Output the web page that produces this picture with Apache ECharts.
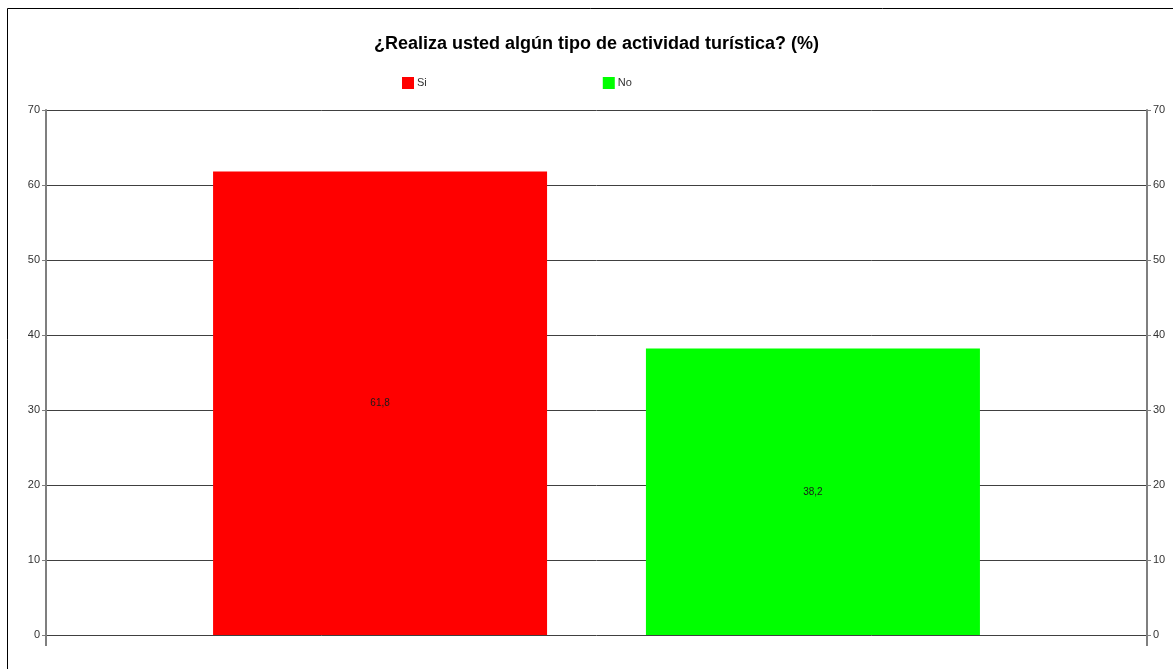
<!DOCTYPE html>
<html>
<head>
<meta charset="utf-8">
<script src="https://cdn.jsdelivr.net/npm/echarts@6/dist/echarts.min.js"></script>
<style>
  html, body { margin: 0; padding: 0; background: #fff; }
  #chart { width: 1173px; height: 669px; }
</style>
</head>
<body>
<div id="chart"></div>
<script>
// Survey answers, percent of respondents
const categories = [''];
const seriesNames = ['Si', 'No'];
const siValues = [61.8];
const noValues = [38.2];
const yTicks = [0, 10, 20, 30, 40, 50, 60, 70];

const chart = echarts.init(document.getElementById('chart'), null, { renderer: 'canvas' });

const fmt = p => String(p.value).replace('.', ',');

const yAxisCommon = {
  type: 'value',
  min: yTicks[0],
  max: yTicks[yTicks.length - 1],
  interval: yTicks[1] - yTicks[0],
  axisLine: { show: true, lineStyle: { color: '#7f7f7f', width: 2 } },
  axisTick: { show: true, length: 4, lineStyle: { color: '#7f7f7f', width: 1 } },
  axisLabel: { color: '#333', fontSize: 11, fontFamily: 'Liberation Sans, Arial', margin: 6 }
};

const valueLabel = {
  show: true,
  position: 'inside',
  formatter: fmt,
  fontSize: 10,
  color: '#1a1a1a',
  fontFamily: 'Liberation Sans, Arial'
};

chart.setOption({
  animation: false,
  backgroundColor: '#fff',
  title: {
    text: '¿Realiza usted algún tipo de actividad turística? (%)',
    left: 369,
    top: 30,
    textStyle: { fontSize: 18, fontWeight: 'bold', color: '#000', fontFamily: 'Liberation Sans, Arial' }
  },
  legend: {
    data: seriesNames,
    left: 397,
    top: 72,
    itemWidth: 12,
    itemHeight: 12,
    itemGap: 176,
    icon: 'rect',
    textStyle: { fontSize: 11, color: '#333', fontFamily: 'Liberation Sans, Arial', padding: [0, 0, 0, -2] }
  },
  grid: { left: 46, right: 26, top: 110, bottom: 34, containLabel: false },
  xAxis: {
    type: 'category',
    data: categories,
    axisLine: { show: false },
    axisTick: { show: true, length: 11, alignWithLabel: false, lineStyle: { color: '#7f7f7f', width: 2 } },
    axisLabel: { show: false },
    splitLine: { show: false }
  },
  yAxis: [
    Object.assign({}, yAxisCommon, {
      position: 'left',
      splitLine: { show: true, lineStyle: { color: '#404040', width: 1 } }
    }),
    Object.assign({}, yAxisCommon, {
      position: 'right',
      splitLine: { show: false }
    })
  ],
  series: [
    {
      name: seriesNames[0],
      type: 'bar',
      data: siValues,
      barWidth: 334,
      barGap: '29.6%',
      itemStyle: { color: '#ff0000' },
      label: valueLabel
    },
    {
      name: seriesNames[1],
      type: 'bar',
      data: noValues,
      barWidth: 334,
      itemStyle: { color: '#00ff00' },
      label: valueLabel
    }
  ],
  graphic: [
    {
      type: 'rect',
      silent: true,
      shape: { x: 7.5, y: 8.5, width: 1300, height: 800 },
      style: { fill: 'none', stroke: '#000', lineWidth: 1 }
    }
  ]
});
</script>
</body>
</html>
